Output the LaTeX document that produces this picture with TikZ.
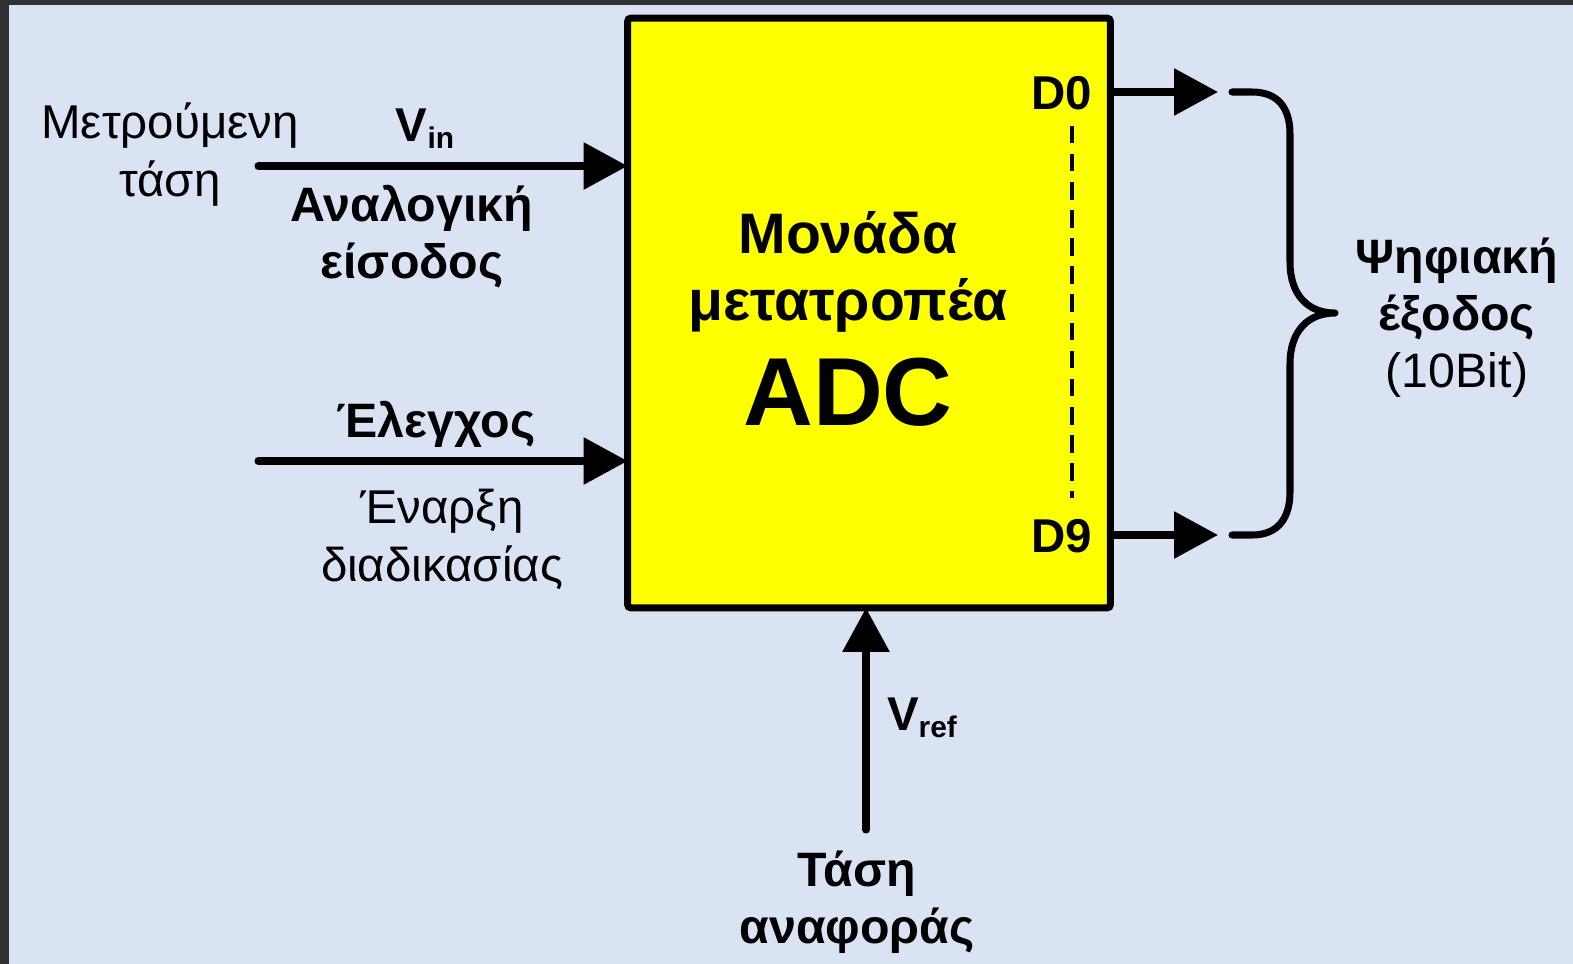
\documentclass[tikz,border=0pt]{standalone}
\usepackage{fontspec}
\setmainfont{Liberation Sans}
\usetikzlibrary{positioning, arrows.meta, calc}

\definecolor{bgBlue}{HTML}{DAE3F3}
\definecolor{frameDark}{HTML}{313131}
\definecolor{adcYellow}{RGB}{255,255,0}

\begin{document}
\begin{tikzpicture}[
    x=0.02cm, y=-0.02cm,
    sig_arrow/.style={-{Triangle[length=25pt, width=26pt]}, line width=4pt, line cap=round},
    brace_line/.style={line width=4pt, line cap=round, line join=round},
    pin_dash/.style={line width=2.5pt, dash pattern=on 10pt off 6pt},
    plain_label/.style={font=\fontsize{27}{33}\selectfont, align=center, inner sep=0pt},
    bold_label/.style={font=\fontsize{27.5}{32.5}\selectfont\bfseries, align=center, inner sep=0pt},
    pin_label/.style={font=\fontsize{27}{27}\selectfont\bfseries, inner sep=0pt},
    adc_box/.style={draw, line width=4pt, fill=adcYellow, minimum width=9.66cm,
        minimum height=11.8cm, rounded corners=2pt, outer sep=0pt}
]

% Background with dark frame on top and left
\fill[frameDark] (0,0) rectangle (1573,964);
\fill[bgBlue] (9,5) rectangle (1573,964);
\useasboundingbox (0,0) rectangle (1573,964);

% ADC block
\node[adc_box] (adc) at (869,313) {};
\node[font=\fontsize{32.5}{38.5}\selectfont\bfseries, align=center, inner sep=0pt]
    (adctitle) at (848,272) {Μονάδα\\μετατροπέα};
\node[font=\fontsize{55}{55}\selectfont\bfseries, inner sep=0pt, anchor=base]
    (adcname) at (848,425) {ADC};

% Output pins
\node[pin_label, anchor=base] (d0) at (1062,109) {D0};
\node[pin_label, anchor=base] (d9) at (1062,552) {D9};
\draw[pin_dash] ([xshift=0.2cm, yshift=-0.32cm]d0.south) -- ([xshift=0.2cm, yshift=0.42cm]d9.north);

% Analog input
\coordinate (vin_tail) at (258,166);
\draw[sig_arrow] (vin_tail) -- (vin_tail -| adc.west);
\node[plain_label] (measured) at (170,155) {Μετρούμενη\\τάση};
\node[pin_label, anchor=base] (vin) at (425,141)
    {V\raisebox{-0.3ex}{\fontsize{17}{17}\selectfont in}};
\node[bold_label] (analog) at (412,237) {Αναλογική\\είσοδος};

% Control input
\coordinate (ctrl_tail) at (258,461);
\draw[sig_arrow] (ctrl_tail) -- (ctrl_tail -| adc.west);
\node[bold_label, anchor=base] (control) at (436,437) {Έλεγχος};
\node[plain_label] (start) at (442,539) {Έναρξη\\διαδικασίας};

% Reference voltage
\coordinate (vref_tail) at (866,830);
\draw[sig_arrow] (vref_tail) -- (vref_tail |- adc.south);
\node[pin_label, anchor=base] (vref) at (922,730)
    {V\raisebox{-0.3ex}{\fontsize{17}{17}\selectfont ref}};
\node[bold_label] (refvolt) at (857,902) {Τάση\\αναφοράς};

% Digital outputs and brace
\coordinate (d0_tip) at (1218,92);
\coordinate (d9_tip) at (1218,535);
\draw[sig_arrow] (d0_tip -| adc.east) -- (d0_tip);
\draw[sig_arrow] (d9_tip -| adc.east) -- (d9_tip);
\draw[brace_line] (1232,92) -- (1252,92) .. controls (1278,92) and (1290,108) .. (1290,134)
    -- (1290,262) .. controls (1290,295) and (1308,313) .. (1335,313)
    .. controls (1308,313) and (1290,331) .. (1290,364)
    -- (1290,492) .. controls (1290,518) and (1278,535) .. (1252,535) -- (1232,535);
\node[bold_label] (digital) at (1457,318) {Ψηφιακή\\έξοδος\\\mdseries(10Bit)};

\end{tikzpicture}
\end{document}
